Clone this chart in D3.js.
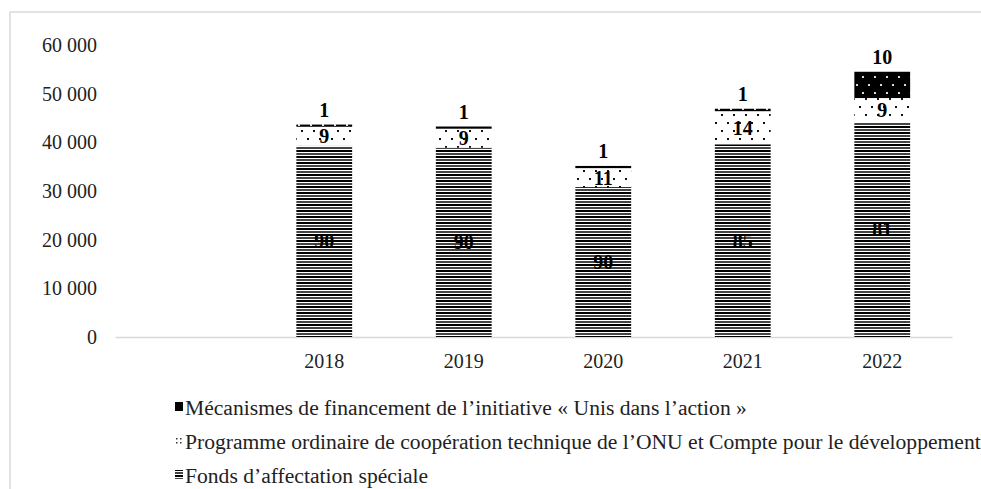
<!DOCTYPE html>
<html>
<head>
<meta charset="utf-8">
<script src="https://cdn.jsdelivr.net/npm/d3@7"></script>
<style>
  body { margin: 0; background: #fff; }
  text { font-family: "Liberation Serif", "Times New Roman", serif; }
</style>
</head>
<body>
<div id="chart"></div>
<script>
// data (values in thousands USD, labels are shares in %)
const years = ["2018", "2019", "2020", "2021", "2022"];
const trustFunds = [39300, 38900, 30800, 39600, 44200];
const regularProgramme = [3900, 3900, 3900, 6800, 4900];
const deliveringAsOne = [450, 450, 450, 500, 5400];
const trustPct = [90, 90, 90, 85, 81];
const regularPct = [9, 9, 11, 14, 9];
const daoPct = [1, 1, 1, 1, 10];
const yTicks = [0, 10000, 20000, 30000, 40000, 50000, 60000];
const legendLabels = [
  "Mécanismes de financement de l’initiative « Unis dans l’action »",
  "Programme ordinaire de coopération technique de l’ONU et Compte pour le développement",
  "Fonds d’affectation spéciale"
];

const width = 981, height = 489;
const svg = d3.select("#chart").append("svg")
  .attr("width", width).attr("height", height);

const defs = svg.append("defs");

// horizontal stripes
const stripes = defs.append("pattern").attr("id", "stripes")
  .attr("patternUnits", "userSpaceOnUse").attr("width", 6).attr("height", 6);
stripes.append("rect").attr("width", 6).attr("height", 6).attr("fill", "#fff");
stripes.append("rect").attr("y", 0).attr("width", 6).attr("height", 2).attr("fill", "#000");
stripes.append("rect").attr("y", 3).attr("width", 6).attr("height", 2).attr("fill", "#444");

// small dots on white
const dots = defs.append("pattern").attr("id", "dots")
  .attr("patternUnits", "userSpaceOnUse").attr("width", 12).attr("height", 16);
dots.append("rect").attr("width", 12).attr("height", 16).attr("fill", "#fff");
dots.append("rect").attr("x", 1).attr("y", 2).attr("width", 2).attr("height", 2).attr("fill", "#111");
dots.append("rect").attr("x", 7).attr("y", 10).attr("width", 2).attr("height", 2).attr("fill", "#111");

// white dots on black
const blackDots = defs.append("pattern").attr("id", "blackDots")
  .attr("patternUnits", "userSpaceOnUse").attr("width", 12).attr("height", 16);
blackDots.append("rect").attr("width", 12).attr("height", 16).attr("fill", "#000");
blackDots.append("rect").attr("x", 4).attr("y", 4).attr("width", 2).attr("height", 2).attr("fill", "#ddd");
blackDots.append("rect").attr("x", 10).attr("y", 12).attr("width", 2).attr("height", 2).attr("fill", "#ddd");

// tighter dot pattern for the small legend key
const legendDots = defs.append("pattern").attr("id", "legendDots")
  .attr("patternUnits", "userSpaceOnUse").attr("width", 4).attr("height", 4);
legendDots.append("rect").attr("width", 4).attr("height", 4).attr("fill", "#fff");
legendDots.append("rect").attr("x", 1).attr("y", 1).attr("width", 1.5).attr("height", 1.5).attr("fill", "#333");

// chart area frame (cropped at right and bottom)
svg.append("path")
  .attr("d", `M10,${height} V12 H${width}`)
  .attr("fill", "none").attr("stroke", "#d9d9d9").attr("stroke-width", 1.5);

// scales
const x = d3.scaleBand()
  .domain([""].concat(years))
  .range([115, 952])
  .paddingInner(0.6)
  .paddingOuter(0.3);

const y = d3.scaleLinear().domain([0, 60000]).range([337, 45]);

const fmt = d3.formatLocale({ decimal: ",", thousands: " ", grouping: [3], currency: ["", ""] }).format(",d");

// y axis labels
const yAxis = svg.append("g")
  .attr("transform", "translate(97,0)")
  .call(d3.axisLeft(y).tickValues(yTicks).tickFormat(fmt).tickSize(0).tickPadding(0));
yAxis.select(".domain").remove();
yAxis.selectAll("text")
  .attr("font-size", 20).attr("fill", "#222")
  .attr("font-family", "Liberation Serif");

// x axis
const xAxis = svg.append("g")
  .attr("transform", `translate(0,${y(0)})`)
  .call(d3.axisBottom(x).tickSize(0).tickPadding(17));
xAxis.select(".domain").attr("stroke", "#d9d9d9").attr("stroke-width", 1.5);
xAxis.selectAll("text")
  .attr("font-size", 20).attr("fill", "#222")
  .attr("font-family", "Liberation Serif");

// stack the series
const rows = years.map((yr, i) => ({
  year: yr,
  trust: trustFunds[i],
  regular: regularProgramme[i],
  dao: deliveringAsOne[i]
}));
const keys = ["trust", "regular", "dao"];
const fills = { trust: "url(#stripes)", regular: "url(#dots)", dao: "url(#blackDots)" };
const pcts = { trust: trustPct, regular: regularPct, dao: daoPct };
const series = d3.stack().keys(keys)(rows);

const layers = svg.append("g").selectAll("g")
  .data(series)
  .join("g")
  .attr("fill", d => fills[d.key]);

layers.selectAll("rect")
  .data(d => d)
  .join("rect")
  .attr("x", d => x(d.data.year))
  .attr("width", x.bandwidth())
  .attr("y", d => y(d[1]))
  .attr("height", d => y(d[0]) - y(d[1]));

// data labels
const labels = svg.append("g")
  .attr("font-weight", "bold")
  .attr("font-size", 20)
  .attr("text-anchor", "middle")
  .attr("fill", "#000");

series.forEach(s => {
  s.forEach((d, i) => {
    const cy = s.key === "dao" ? y(d[1]) - 15 : (y(d[0]) + y(d[1])) / 2;
    labels.append("text")
      .attr("x", x(d.data.year) + x.bandwidth() / 2)
      .attr("y", cy)
      .attr("dy", "0.35em")
      .text(pcts[s.key][i]);
  });
});

// legend
const legendFills = ["#000", "url(#legendDots)", "url(#stripes)"];
const legend = svg.append("g").selectAll("g")
  .data(legendLabels)
  .join("g")
  .attr("transform", (d, i) => `translate(175,${407 + i * 34})`);

legend.append("rect")
  .attr("x", 0).attr("y", -5)
  .attr("width", 8).attr("height", 9)
  .attr("fill", (d, i) => legendFills[i]);

legend.append("text")
  .attr("x", 10)
  .attr("dy", "0.35em")
  .attr("font-size", 21.6)
  .attr("fill", "#222")
  .text(d => d);
</script>
</body>
</html>
